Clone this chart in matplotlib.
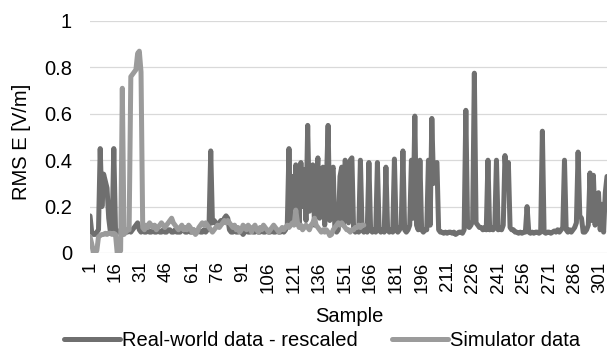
import numpy as np
import matplotlib
matplotlib.use('Agg')
import matplotlib.pyplot as plt

plt.rcParams['font.family'] = ['Liberation Sans', 'DejaVu Sans']

# Real-world data - rescaled, samples 1..305
real_world = [
    0.16, 0.09, 0.08, 0.08, 0.09, 0.10, 0.45, 0.20, 0.34, 0.31,
    0.28, 0.15, 0.09, 0.10, 0.45, 0.10, 0.09, 0.09, 0.10, 0.09,
    0.09, 0.10, 0.09, 0.10, 0.09, 0.10, 0.11, 0.12, 0.13, 0.10,
    0.09, 0.10, 0.09, 0.09, 0.10, 0.09, 0.09, 0.10, 0.09, 0.09,
    0.10, 0.09, 0.09, 0.10, 0.09, 0.09, 0.10, 0.10, 0.09, 0.09,
    0.10, 0.09, 0.09, 0.09, 0.10, 0.10, 0.09, 0.09, 0.10, 0.09,
    0.09, 0.10, 0.09, 0.09, 0.10, 0.09, 0.09, 0.10, 0.09, 0.10,
    0.12, 0.44, 0.13, 0.14, 0.13, 0.12, 0.13, 0.14, 0.13, 0.15,
    0.16, 0.15, 0.10, 0.09, 0.09, 0.10, 0.09, 0.09, 0.10, 0.09,
    0.08, 0.09, 0.10, 0.09, 0.09, 0.10, 0.09, 0.09, 0.10, 0.09,
    0.09, 0.10, 0.09, 0.09, 0.10, 0.09, 0.09, 0.10, 0.09, 0.09,
    0.10, 0.09, 0.09, 0.10, 0.09, 0.10, 0.12, 0.45, 0.12, 0.33,
    0.15, 0.38, 0.30, 0.12, 0.39, 0.20, 0.36, 0.14, 0.55, 0.18,
    0.35, 0.38, 0.12, 0.30, 0.41, 0.15, 0.34, 0.37, 0.12, 0.30,
    0.55, 0.14, 0.35, 0.37, 0.10, 0.09, 0.10, 0.33, 0.37, 0.12,
    0.40, 0.38, 0.13, 0.40, 0.41, 0.10, 0.09, 0.10, 0.09, 0.40,
    0.10, 0.09, 0.10, 0.09, 0.39, 0.10, 0.09, 0.10, 0.09, 0.39,
    0.10, 0.09, 0.10, 0.09, 0.37, 0.10, 0.09, 0.10, 0.09, 0.405,
    0.10, 0.09, 0.10, 0.12, 0.44, 0.10, 0.09, 0.10, 0.12, 0.40,
    0.15, 0.59, 0.12, 0.10, 0.40, 0.10, 0.09, 0.10, 0.10, 0.40,
    0.12, 0.58, 0.30, 0.38, 0.39, 0.10, 0.09, 0.09, 0.085, 0.09,
    0.085, 0.09, 0.09, 0.085, 0.09, 0.08, 0.085, 0.09, 0.09, 0.085,
    0.10, 0.615, 0.12, 0.11, 0.12, 0.14, 0.775, 0.13, 0.12, 0.11,
    0.11, 0.10, 0.11, 0.10, 0.40, 0.10, 0.11, 0.10, 0.11, 0.40,
    0.10, 0.11, 0.10, 0.12, 0.42, 0.30, 0.39, 0.11, 0.10, 0.10,
    0.09, 0.09, 0.085, 0.09, 0.085, 0.09, 0.09, 0.20, 0.09, 0.085,
    0.09, 0.085, 0.09, 0.09, 0.085, 0.09, 0.525, 0.09, 0.085, 0.09,
    0.09, 0.085, 0.09, 0.095, 0.09, 0.10, 0.09, 0.10, 0.11, 0.40,
    0.10, 0.09, 0.10, 0.09, 0.10, 0.11, 0.13, 0.435, 0.16, 0.15,
    0.09, 0.09, 0.10, 0.12, 0.345, 0.14, 0.335, 0.12, 0.20, 0.26,
    0.10, 0.21, 0.09, 0.26, 0.33,
]

# Simulator data, samples 1..162
simulator = [
    0.07, 0.04, 0.00, 0.00, 0.01, 0.07, 0.075, 0.08, 0.08, 0.085,
    0.08, 0.085, 0.085, 0.08, 0.085, 0.08, 0.00, 0.00, 0.01, 0.71,
    0.08, 0.09, 0.10, 0.10, 0.76, 0.77, 0.78, 0.79, 0.86, 0.87,
    0.78, 0.11, 0.10, 0.12, 0.11, 0.13, 0.12, 0.11, 0.12, 0.10,
    0.11, 0.12, 0.13, 0.12, 0.11, 0.12, 0.13, 0.14, 0.15, 0.13,
    0.12, 0.11, 0.10, 0.11, 0.12, 0.10, 0.11, 0.10, 0.12, 0.11,
    0.09, 0.10, 0.08, 0.09, 0.11, 0.12, 0.13, 0.12, 0.13, 0.12,
    0.11, 0.10, 0.09, 0.10, 0.11, 0.12, 0.11, 0.12, 0.13, 0.14,
    0.13, 0.14, 0.13, 0.12, 0.11, 0.12, 0.10, 0.11, 0.09, 0.10,
    0.12, 0.11, 0.10, 0.12, 0.11, 0.09, 0.11, 0.12, 0.10, 0.09,
    0.11, 0.10, 0.12, 0.11, 0.10, 0.09, 0.10, 0.11, 0.12, 0.11,
    0.10, 0.09, 0.10, 0.11, 0.10, 0.11, 0.12, 0.11, 0.12, 0.13,
    0.12, 0.185, 0.13, 0.11, 0.12, 0.10, 0.11, 0.12, 0.11, 0.10,
    0.12, 0.13, 0.15, 0.12, 0.11, 0.10, 0.09, 0.10, 0.09, 0.10,
    0.09, 0.075, 0.08, 0.10, 0.11, 0.12, 0.13, 0.12, 0.13, 0.12,
    0.11, 0.10, 0.10, 0.09, 0.10, 0.10, 0.11, 0.11, 0.12, 0.11,
    0.12, 0.12,
]

assert len(real_world) == 305, len(real_world)

x_ticks = list(range(1, 305, 15))
y_ticks = [0, 0.2, 0.4, 0.6, 0.8, 1]
y_tick_labels = ['0', '0.2', '0.4', '0.6', '0.8', '1']

dark = '#6f6f6f'
light = '#9b9b9b'

fig = plt.figure(figsize=(6.09, 3.52), dpi=100)
ax = fig.add_axes([90 / 609, 1 - 253 / 352, 517 / 609, 232 / 352])

x_real = np.arange(1, len(real_world) + 1)
x_sim = np.arange(1, len(simulator) + 1)
ax.plot(x_real, real_world, color=dark, lw=3.6, solid_joinstyle='round',
        solid_capstyle='round', label='Real-world data - rescaled')
ax.plot(x_sim, simulator, color=light, lw=3.6, solid_joinstyle='round',
        solid_capstyle='round', label='Simulator data')

ax.set_xlim(1, 305)
ax.set_ylim(0, 1)
ax.set_xticks(x_ticks)
ax.set_xticklabels([str(t) for t in x_ticks], rotation=90, fontsize=13.5)
ax.set_yticks(y_ticks)
ax.set_yticklabels(y_tick_labels, fontsize=14.5)
ax.tick_params(axis='both', length=0)
ax.tick_params(axis='y', pad=13)
ax.tick_params(axis='x', pad=6)
ax.grid(axis='y', color='#d9d9d9', lw=0.9)
ax.set_axisbelow(True)
for s in ax.spines.values():
    s.set_visible(False)

fig.text(22 / 609, 1 - 142 / 352, 'RMS E [V/m]', ha='center', va='center',
         rotation=90, fontsize=14.5)
fig.text(349 / 609, 1 - 316 / 352, 'Sample', ha='center', va='center', fontsize=14.5)

fig.legend(loc='center', bbox_to_anchor=(322 / 609, 1 - 341 / 352), ncol=2,
           frameon=False, fontsize=14.5, handlelength=2.8, handletextpad=0.1,
           columnspacing=1.7)

fig.savefig('out.png', dpi=100)
